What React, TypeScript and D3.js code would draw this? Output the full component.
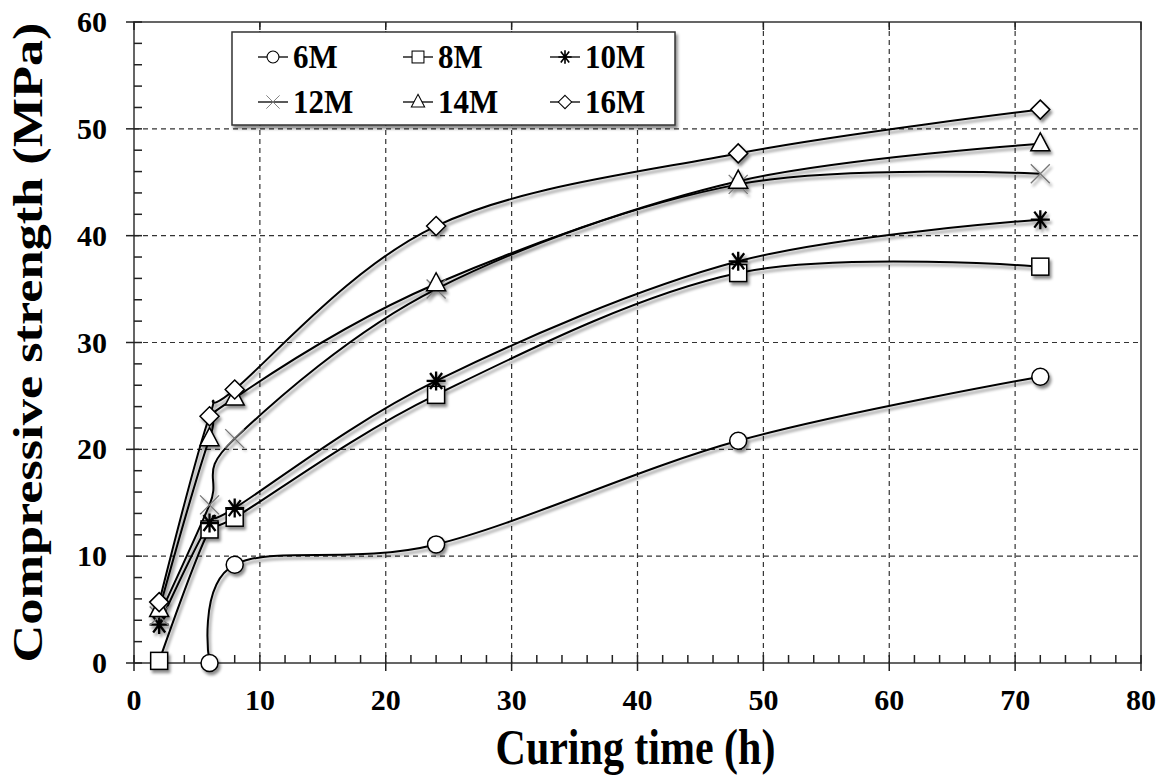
import React, { useEffect, useRef } from "react";
import * as d3 from "d3";

// curing times (h)
const times = [2, 6, 8, 24, 48, 72];

const seriesNames = ["6M", "8M", "10M", "12M", "14M", "16M"];
const symbols = ["circle", "square", "star", "cross", "triangle", "diamond"];

// compressive strength (MPa); null = no reading
const s6M = [null, 0, 9.2, 11.1, 20.8, 26.8];
const s8M = [0.2, 12.5, 13.6, 25.1, 36.5, 37.1];
const s10M = [3.6, 13.1, 14.5, 26.4, 37.6, 41.5];
const s12M = [4.4, 14.8, 21.0, 35.0, 44.8, 45.8];
const s14M = [5.0, 21.0, 24.8, 35.5, 45.1, 48.6];
const s16M = [5.7, 23.1, 25.6, 40.9, 47.7, 51.8];

const xTicks = [0, 10, 20, 30, 40, 50, 60, 70, 80];
const yTicks = [0, 10, 20, 30, 40, 50, 60];

function drawMarker(g, type, x, y) {
  if (type === "circle") {
    g.append("circle").attr("cx", x).attr("cy", y).attr("r", 8.5)
      .attr("fill", "#fff").attr("stroke", "#000").attr("stroke-width", 1.5);
  } else if (type === "square") {
    g.append("rect").attr("x", x - 8.5).attr("y", y - 8.5).attr("width", 17).attr("height", 17)
      .attr("fill", "#fff").attr("stroke", "#000").attr("stroke-width", 1.5);
  } else if (type === "triangle") {
    g.append("path").attr("d", `M${x},${y - 11}L${x + 9.5},${y + 7}L${x - 9.5},${y + 7}Z`)
      .attr("fill", "#fff").attr("stroke", "#000").attr("stroke-width", 1.5);
  } else if (type === "diamond") {
    g.append("path").attr("d", `M${x},${y - 9.5}L${x + 9.5},${y}L${x},${y + 9.5}L${x - 9.5},${y}Z`)
      .attr("fill", "#fff").attr("stroke", "#000").attr("stroke-width", 1.5);
  } else if (type === "star") {
    const r = 9.5;
    g.append("path")
      .attr("d", `M${x - r},${y}L${x + r},${y}M${x - 6},${y - 8}L${x + 6},${y + 8}M${x - 6},${y + 8}L${x + 6},${y - 8}M${x},${y - r}L${x},${y + r}`)
      .attr("stroke", "#000").attr("stroke-width", 2.3).attr("fill", "none");
  } else if (type === "cross") {
    const r = 9.5;
    g.append("path")
      .attr("d", `M${x - r},${y - r}L${x + r},${y + r}M${x - r},${y + r}L${x + r},${y - r}`)
      .attr("stroke", "#777").attr("stroke-width", 1.3).attr("fill", "none");
  }
}

export default function App() {
  const ref = useRef(null);

  useEffect(() => {
    const svg = d3.select(ref.current);
    svg.selectAll("*").remove();

    const allSeries = [s6M, s8M, s10M, s12M, s14M, s16M];
    const left = 134, right = 1141, top = 22, bottom = 663;
    const font = "'Liberation Serif', 'Times New Roman', Times, serif";

    const x = d3.scaleLinear().domain([0, 80]).range([left, right]);
    const y = d3.scaleLinear().domain([0, 60]).range([bottom, top]);

    const defs = svg.append("defs");
    const f = defs.append("filter").attr("id", "shadow")
      .attr("x", "-20%").attr("y", "-20%").attr("width", "140%").attr("height", "140%");
    f.append("feDropShadow").attr("dx", 2).attr("dy", 3).attr("stdDeviation", 1.6)
      .attr("flood-color", "#000").attr("flood-opacity", 0.45);

    // grid
    const grid = svg.append("g");
    xTicks.slice(1, -1).forEach(t => {
      grid.append("line").attr("x1", x(t)).attr("x2", x(t)).attr("y1", top).attr("y2", bottom)
        .attr("stroke", "#333").attr("stroke-width", 1.2).attr("stroke-dasharray", "5,4");
    });
    yTicks.slice(1, -1).forEach(t => {
      grid.append("line").attr("x1", left).attr("x2", right).attr("y1", y(t)).attr("y2", y(t))
        .attr("stroke", "#333").attr("stroke-width", 1.2).attr("stroke-dasharray", "5,4");
    });

    // frame
    svg.append("rect").attr("x", left).attr("y", top).attr("width", right - left).attr("height", bottom - top)
      .attr("fill", "none").attr("stroke", "#333").attr("stroke-width", 1.5);

    // ticks
    const tk = svg.append("g").attr("stroke", "#222").attr("stroke-width", 1.5);
    d3.range(0, 81, 2).forEach(t => {
      const major = t % 10 === 0;
      tk.append("line").attr("x1", x(t)).attr("x2", x(t))
        .attr("y1", major ? bottom + 8 : bottom).attr("y2", bottom - 8);
      tk.append("line").attr("x1", x(t)).attr("x2", x(t))
        .attr("y1", top).attr("y2", top + (major ? 8 : 0));
    });
    d3.range(0, 61, 2).forEach(t => {
      const major = t % 10 === 0;
      tk.append("line").attr("y1", y(t)).attr("y2", y(t))
        .attr("x1", major ? left - 8 : left).attr("x2", left + 8);
    });

    // tick labels
    svg.append("g").selectAll("text").data(xTicks).join("text")
      .attr("x", d => x(d)).attr("y", bottom + 47).attr("text-anchor", "middle")
      .attr("font-family", font).attr("font-weight", "bold").attr("font-size", 30)
      .text(d => d);
    svg.append("g").selectAll("text").data(yTicks).join("text")
      .attr("x", left - 27).attr("y", d => y(d) + 10).attr("text-anchor", "end")
      .attr("font-family", font).attr("font-weight", "bold").attr("font-size", 30)
      .text(d => d);

    // axis titles (original image is stretched vertically)
    svg.append("text")
      .attr("transform", `translate(${(left + right) / 2 - 2},764) scale(1,1.22)`)
      .attr("text-anchor", "middle")
      .attr("font-family", font).attr("font-weight", "bold").attr("font-size", 42)
      .text("Curing time (h)");
    svg.append("text").attr("transform", `translate(42,${(top + bottom) / 2}) rotate(-90)`)
      .attr("text-anchor", "middle")
      .attr("font-family", font).attr("font-weight", "bold").attr("font-size", 43)
      .attr("textLength", 640).attr("lengthAdjust", "spacingAndGlyphs")
      .text("Compressive strength (MPa)");

    // lines
    const line = d3.line()
      .defined(d => d[1] != null)
      .x(d => x(d[0])).y(d => y(d[1]))
      .curve(d3.curveCardinal.tension(0));

    const plot = svg.append("g").attr("filter", "url(#shadow)");
    allSeries.forEach(vals => {
      const pts = times.map((t, i) => [t, vals[i]]).filter(d => d[1] != null);
      plot.append("path").datum(pts).attr("d", line)
        .attr("fill", "none").attr("stroke", "#000").attr("stroke-width", 2);
    });
    allSeries.forEach((vals, si) => {
      times.forEach((t, i) => {
        if (vals[i] == null) return;
        drawMarker(plot, symbols[si], x(t), y(vals[i]));
      });
    });

    // legend
    const lg = svg.append("g");
    lg.append("rect").attr("x", 232).attr("y", 32).attr("width", 443).attr("height", 93)
      .attr("fill", "#fff").attr("stroke", "#333").attr("stroke-width", 1.5)
      .attr("filter", "url(#shadow)");
    const colX = [258, 403, 550];
    const rowY = [57, 102];
    seriesNames.forEach((name, i) => {
      const cx = colX[i % 3], cy = rowY[Math.floor(i / 3)];
      const item = lg.append("g");
      item.append("line").attr("x1", cx).attr("x2", cx + 30).attr("y1", cy).attr("y2", cy)
        .attr("stroke", "#000").attr("stroke-width", 1.3);
      const mg = item.append("g").attr("transform", `translate(${cx + 15},${cy}) scale(0.7) translate(${-(cx + 15)},${-cy})`);
      drawMarker(mg, symbols[i], cx + 15, cy);
      item.append("text")
        .attr("transform", `translate(${cx + 35},${cy + 11}) scale(1,1.1)`)
        .attr("font-family", font).attr("font-weight", "bold").attr("font-size", 31)
        .text(name);
    });
  }, []);

  return (
    <div style={{ position: "absolute", left: 0, top: 0 }}>
      <svg ref={ref} width={1169} height={776} style={{ display: "block", background: "#fff" }} />
    </div>
  );
}
